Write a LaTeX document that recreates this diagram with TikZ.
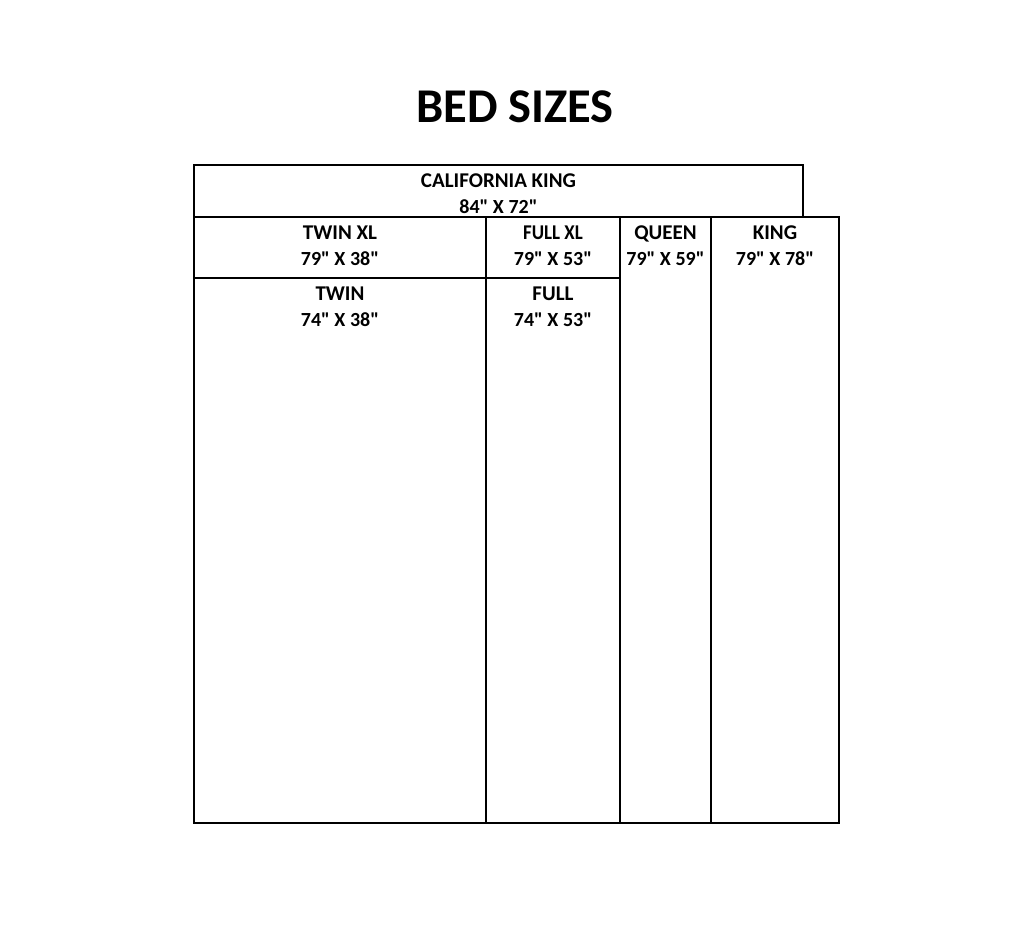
\documentclass[tikz,border=0pt]{standalone}
\usepackage{fontspec}
\setmainfont{Carlito}[Ligatures=TeXOff]
\newcommand\inchmark{\char34\relax}
\begin{document}
\begin{tikzpicture}[x=1pt,y=-1pt,
  bed/.style={draw=black,line width=2pt},
  lbl/.style={anchor=base,inner sep=0pt,font=\bfseries\fontsize{21}{24}\selectfont},
  dim/.style={anchor=base,inner sep=0pt,font=\bfseries\fontsize{20}{24}\selectfont},
  ttl/.style={anchor=base,inner sep=0pt,font=\bfseries\fontsize{48.5}{56}\selectfont}]
\useasboundingbox[fill=white] (0,0) rectangle (1035,948);
\node[ttl] (title) at (515,122) {BED SIZES};
% outlines
\draw[bed] (194,165) rectangle (803,217);
\draw[bed] (194,217) rectangle (839,823);
\draw[bed] (486,217) -- (486,823);
\draw[bed] (620,217) -- (620,823);
\draw[bed] (711,217) -- (711,823);
\draw[bed] (194,278) -- (620,278);
% labels
\node[lbl] (ck1) at (498.5,187) {CALIFORNIA KING};
\node[dim] (ck2) at (498.5,213) {84\inchmark{} X 72\inchmark};
\node[lbl] (txl1) at (340,239) {TWIN XL};
\node[dim] (txl2) at (340,265) {79\inchmark{} X 38\inchmark};
\node[lbl,xscale=0.9,transform shape] (fxl1) at (553,239) {FULL XL};
\node[dim] (fxl2) at (553,265) {79\inchmark{} X 53\inchmark};
\node[lbl] (q1) at (665.5,239) {QUEEN};
\node[dim] (q2) at (665.5,265) {79\inchmark{} X 59\inchmark};
\node[lbl] (k1) at (775,239) {KING};
\node[dim] (k2) at (775,265) {79\inchmark{} X 78\inchmark};
\node[lbl] (t1) at (340,300) {TWIN};
\node[dim] (t2) at (340,326) {74\inchmark{} X 38\inchmark};
\node[lbl] (f1) at (553,300) {FULL};
\node[dim] (f2) at (553,326) {74\inchmark{} X 53\inchmark};
\end{tikzpicture}
\end{document}
